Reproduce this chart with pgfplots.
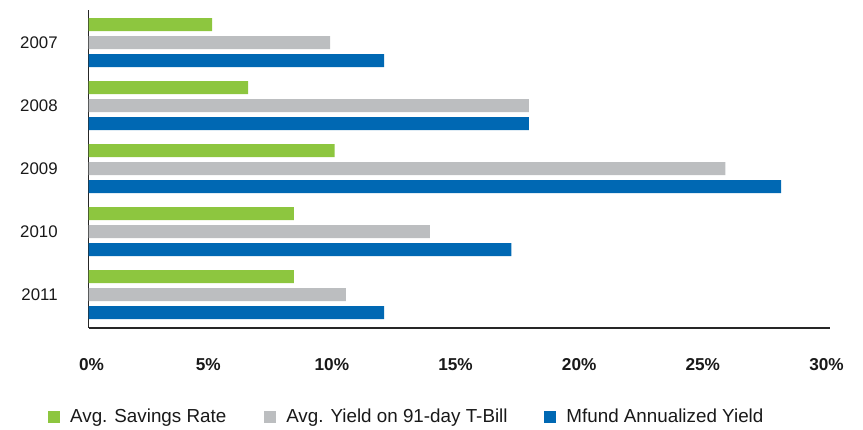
\documentclass[border=0pt]{standalone}
\usepackage{pgfplots}
\pgfplotsset{compat=1.18}
\usepackage{fontspec}
\setmainfont{Liberation Sans}
\definecolor{cgreen}{HTML}{8DC63F}
\definecolor{cgray}{HTML}{BCBEC0}
\definecolor{cblue}{HTML}{0068B3}
\begin{document}
\begin{tikzpicture}
\begin{axis}[
  scale only axis, width=370.75pt, height=158.85pt,
  xmin=0, xmax=30, ymin=-0.516, ymax=4.527, y dir=reverse,
  axis x line*=bottom, axis y line*=left,
  axis line style={-, black!85, line width=0.7pt},
  major tick length=0pt,
  xtick={0,5,10,15,20,25,30},
  xticklabels={\hspace*{7pt}0\%,5\%,10\%,15\%,20\%,25\%,30\%},
  ytick={0,1,2,3,4},
  yticklabels={2007,2008,2009,2010,2011},
  x tick label style={font=\fontsize{8.6}{10}\selectfont\bfseries, anchor=center, inner sep=0pt, yshift=-18.25pt, xshift=-2pt, text=black!90},
  y tick label style={font=\fontsize{8.4}{10}\selectfont, anchor=east, inner sep=0pt, xshift=-15.25pt, text=black!90},
  legend style={at={(-0.055,-0.2810)}, anchor=west, draw=none, inner sep=0pt,
    legend columns=3, font=\fontsize{9.4}{11}\selectfont, text=black!90,
    nodes={inner sep=0pt},
    /tikz/every odd column/.append style={column sep=5pt},
    /tikz/every even column/.append style={column sep=0pt},
    legend cell align=left},
  legend image code/.code={\fill[#1] (0pt,-3pt) rectangle (6pt,3pt);},
]
\addplot[xbar, bar width=0.206, bar shift=-0.2857, fill=cgreen, draw=none]
  coordinates {(5.0,0) (6.45,1) (9.95,2) (8.3,3) (8.3,4)};
\addlegendentry{\makebox[97pt][l]{Avg. Savings Rate}}
\addplot[xbar, bar width=0.206, bar shift=0, fill=cgray, draw=none]
  coordinates {(9.77,0) (17.8,1) (25.75,2) (13.8,3) (10.4,4)};
\addlegendentry{\makebox[129pt][l]{Avg. Yield on 91-day T-Bill}}
\addplot[xbar, bar width=0.206, bar shift=0.2857, fill=cblue, draw=none]
  coordinates {(11.95,0) (17.8,1) (28.0,2) (17.1,3) (11.95,4)};
\addlegendentry{Mfund Annualized Yield}
\end{axis}
\useasboundingbox (-44.25pt,-50.65pt) rectangle (387pt,163.85pt);
\end{tikzpicture}
\end{document}
